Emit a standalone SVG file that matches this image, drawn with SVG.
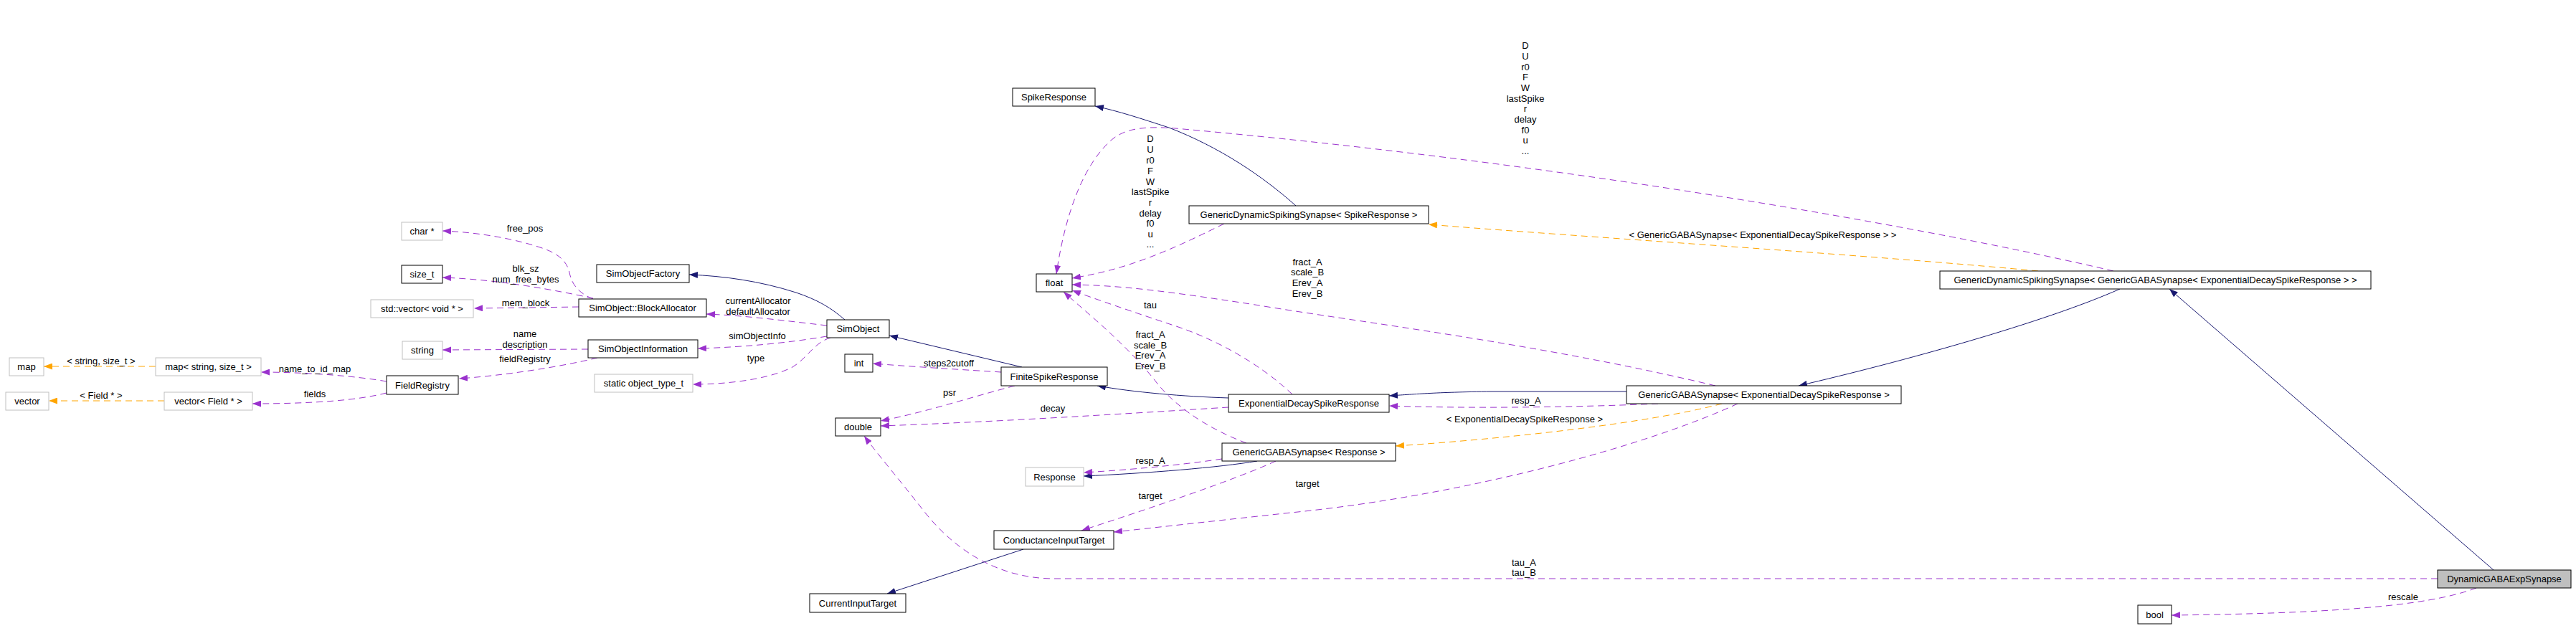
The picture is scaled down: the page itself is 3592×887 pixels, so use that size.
<svg xmlns="http://www.w3.org/2000/svg" width="3592" height="887" viewBox="0 0 3592 887">
<style>
.bg{fill:#ffffff}
.n rect{fill:#ffffff;stroke:#000000;stroke-width:1}
.n.u rect{stroke:#bfbfbf}
.n.main rect{fill:#bfbfbf}
text{font-family:"Liberation Sans",Arial,sans-serif;font-size:13px;fill:#000000;text-anchor:middle}
.e{fill:none;stroke-width:1}
.inh{stroke:#191970}
.use{stroke:#9a32cd;stroke-dasharray:9,6}
.tpl{stroke:#ffa500;stroke-dasharray:9,6}
.inh.e{marker-end:url(#an)}
.use.e{marker-end:url(#ap)}
.tpl.e{marker-end:url(#ao)}
</style>
<defs>
<marker id="ap" viewBox="0 0 12 9" refX="12" refY="4.5" markerWidth="12" markerHeight="9" markerUnits="userSpaceOnUse" orient="auto"><path d="M0,0 L12,4.5 L0,9 z" fill="#9a32cd"/></marker>
<marker id="an" viewBox="0 0 12 9" refX="12" refY="4.5" markerWidth="12" markerHeight="9" markerUnits="userSpaceOnUse" orient="auto"><path d="M0,0 L12,4.5 L0,9 z" fill="#191970"/></marker>
<marker id="ao" viewBox="0 0 12 9" refX="12" refY="4.5" markerWidth="12" markerHeight="9" markerUnits="userSpaceOnUse" orient="auto"><path d="M0,0 L12,4.5 L0,9 z" fill="#ffa500"/></marker>
</defs>
<rect class="bg" x="0" y="0" width="3592" height="887"/>

<g id="connectors">
<path class="use e" d="M827,417 C805,408 797,395 794,380 C790,362 775,352 753,345 C720,334 670,324 617,322"/>
<path class="use e" d="M827,416 C780,406 700,390 617,387"/>
<path class="use e" d="M807,428 L661,430"/>
<path class="use e" d="M820,487 L617,488"/>
<path class="use e" d="M833,499 C780,512 700,524 640,528"/>
<path class="use e" d="M539,532 C500,525 430,519 364,519"/>
<path class="use e" d="M539,548 C500,558 440,563 352,563"/>
<path class="tpl e" d="M217,511 L61,511"/>
<path class="tpl e" d="M229,559 L68,559"/>
<path class="use e" d="M1153,454 C1100,448 1040,440 985,438"/>
<path class="use e" d="M1153,469 C1100,478 1040,484 973,486"/>
<path class="use e" d="M1158,471 C1135,478 1125,500 1105,512 C1070,530 1010,536 966,536"/>
<path class="inh e" d="M1178,446 C1160,430 1140,418 1110,408 C1060,392 1010,385 961,383"/>
<path class="inh e" d="M1425,512 L1240,468"/>
<path class="use e" d="M1396,519 C1350,516 1280,512 1217,507"/>
<path class="use e" d="M1415,538 C1350,555 1290,575 1228,587"/>
<path class="use e" d="M1713,568 C1600,575 1400,588 1228,594"/>
<path class="inh e" d="M1713,555 C1650,553 1580,547 1530,538"/>
<path class="use e" d="M3399,807 L1470,807 C1390,807 1330,765 1290,715 C1255,670 1225,635 1205,608"/>
<path class="inh e" d="M1753,643 C1700,652 1600,660 1511,664"/>
<path class="use e" d="M1704,640 C1650,648 1580,655 1511,659"/>
<path class="use e" d="M1779,643 C1720,670 1600,710 1508,740"/>
<path class="use e" d="M2423,563 C2300,620 2050,690 1800,715 C1680,728 1600,737 1553,742"/>
<path class="inh e" d="M1427,766 L1237,828"/>
<path class="use e" d="M1707,312 C1670,330 1640,345 1600,360 C1560,375 1530,382 1495,388"/>
<path class="use e" d="M2947,378 C2700,320 2200,230 1650,180 C1600,175 1570,178 1550,195 C1510,230 1485,300 1473,382"/>
<path class="inh e" d="M1807,287 C1760,245 1700,205 1630,178 C1590,165 1560,155 1527,148"/>
<path class="tpl e" d="M2842,378 C2600,355 2200,330 1992,313"/>
<path class="use e" d="M1802,550 C1760,510 1700,475 1640,455 C1580,435 1530,418 1495,405"/>
<path class="use e" d="M2392,538 C2150,480 1900,450 1750,425 C1620,405 1560,398 1495,397"/>
<path class="use e" d="M1738,618 C1690,600 1640,570 1610,530 C1570,480 1520,440 1483,407"/>
<path class="inh e" d="M2956,403 C2850,450 2650,505 2508,538"/>
<path class="inh e" d="M3477,795 L3025,403"/>
<path class="use e" d="M3453,820 C3400,840 3300,855 3028,858"/>
<path class="inh e" d="M2268,546 L2080,546 C2000,547 1970,550 1937,552"/>
<path class="use e" d="M2312,563 C2200,568 2050,570 1937,566"/>
<path class="tpl e" d="M2401,563 C2300,590 2100,612 1946,622"/>

<text x="732" y="323">free_pos</text>
<text x="733" y="379">blk_sz</text>
<text x="733" y="394">num_free_bytes</text>
<text x="733" y="427">mem_block</text>
<text x="732" y="470">name</text>
<text x="732" y="485">description</text>
<text x="732" y="505">fieldRegistry</text>
<text x="141" y="508">&lt; string, size_t &gt;</text>
<text x="141" y="556">&lt; Field * &gt;</text>
<text x="439" y="519">name_to_id_map</text>
<text x="439" y="554">fields</text>
<text x="1057" y="424">currentAllocator</text>
<text x="1057" y="439">defaultAllocator</text>
<text x="1056" y="473">simObjectInfo</text>
<text x="1054" y="504">type</text>
<text x="1323" y="511">steps2cutoff</text>
<text x="1324" y="552">psr</text>
<text x="1468" y="574">decay</text>
<text x="1604" y="471">fract_A</text>
<text x="1604" y="486">scale_B</text>
<text x="1604" y="500">Erev_A</text>
<text x="1604" y="515">Erev_B</text>
<text x="1823" y="370">fract_A</text>
<text x="1823" y="384">scale_B</text>
<text x="1823" y="399">Erev_A</text>
<text x="1823" y="414">Erev_B</text>
<text x="1604" y="647">resp_A</text>
<text x="1604" y="696">target</text>
<text x="1604" y="430">tau</text>
<text x="1604" y="198">D</text>
<text x="1604" y="213">U</text>
<text x="1604" y="228">r0</text>
<text x="1604" y="243">F</text>
<text x="1604" y="258">W</text>
<text x="1604" y="272">lastSpike</text>
<text x="1604" y="287">r</text>
<text x="1604" y="302">delay</text>
<text x="1604" y="316">f0</text>
<text x="1604" y="331">u</text>
<text x="1604" y="345">...</text>
<text x="2127" y="68">D</text>
<text x="2127" y="83">U</text>
<text x="2127" y="98">r0</text>
<text x="2127" y="112">F</text>
<text x="2127" y="127">W</text>
<text x="2127" y="142">lastSpike</text>
<text x="2127" y="156">r</text>
<text x="2127" y="171">delay</text>
<text x="2127" y="186">f0</text>
<text x="2127" y="200">u</text>
<text x="2127" y="215">...</text>
<text x="2458" y="332">&lt; GenericGABASynapse&lt; ExponentialDecaySpikeResponse &gt; &gt;</text>
<text x="2128" y="563">resp_A</text>
<text x="2126" y="589">&lt; ExponentialDecaySpikeResponse &gt;</text>
<text x="1823" y="679">target</text>
<text x="2125" y="789">tau_A</text>
<text x="2125" y="803">tau_B</text>
<text x="3351" y="837">rescale</text>
</g>

<g id="n_char" class="n u"><rect x="560" y="310" width="57" height="25"/><text x="588.5" y="327">char *</text></g>
<g id="n_size_t" class="n"><rect x="560" y="370" width="57" height="25"/><text x="588.5" y="387">size_t</text></g>
<g id="n_stdvector" class="n u"><rect x="517" y="418" width="143" height="25"/><text x="588.5" y="435">std::vector&lt; void * &gt;</text></g>
<g id="n_string" class="n u"><rect x="561" y="476" width="56" height="25"/><text x="589" y="493">string</text></g>
<g id="n_map" class="n u"><rect x="13" y="499" width="48" height="25"/><text x="37" y="516">map</text></g>
<g id="n_mapstr" class="n u"><rect x="217" y="499" width="147" height="25"/><text x="290.5" y="516">map&lt; string, size_t &gt;</text></g>
<g id="n_fieldregistry" class="n"><rect x="539" y="524" width="100" height="26"/><text x="589" y="542">FieldRegistry</text></g>
<g id="n_vector" class="n u"><rect x="8" y="547" width="60" height="25"/><text x="38" y="564">vector</text></g>
<g id="n_vectorfield" class="n u"><rect x="229" y="547" width="123" height="25"/><text x="290.5" y="564">vector&lt; Field * &gt;</text></g>
<g id="n_simobjectfactory" class="n"><rect x="832" y="369" width="129" height="25"/><text x="896.5" y="386">SimObjectFactory</text></g>
<g id="n_blockallocator" class="n"><rect x="807" y="417" width="178" height="25"/><text x="896" y="434">SimObject::BlockAllocator</text></g>
<g id="n_simobjectinformation" class="n"><rect x="820" y="474" width="153" height="25"/><text x="896.5" y="491">SimObjectInformation</text></g>
<g id="n_objecttype" class="n u"><rect x="829" y="522" width="137" height="25"/><text x="897.5" y="539">static object_type_t</text></g>
<g id="n_simobject" class="n"><rect x="1153" y="446" width="87" height="25"/><text x="1196.5" y="463">SimObject</text></g>
<g id="n_int" class="n"><rect x="1178" y="494" width="39" height="25"/><text x="1197.5" y="511">int</text></g>
<g id="n_double" class="n"><rect x="1165" y="583" width="63" height="25"/><text x="1196.5" y="600">double</text></g>
<g id="n_currentinputtarget" class="n"><rect x="1129" y="828" width="134" height="26"/><text x="1196" y="846">CurrentInputTarget</text></g>
<g id="n_finitespikeresponse" class="n"><rect x="1396" y="512" width="148" height="26"/><text x="1470" y="530">FiniteSpikeResponse</text></g>
<g id="n_response" class="n u"><rect x="1430" y="652" width="81" height="26"/><text x="1470.5" y="670">Response</text></g>
<g id="n_conductanceinputtarget" class="n"><rect x="1386" y="740" width="167" height="26"/><text x="1469.5" y="758">ConductanceInputTarget</text></g>
<g id="n_spikeresponse" class="n"><rect x="1412" y="123" width="115" height="25"/><text x="1469.5" y="140">SpikeResponse</text></g>
<g id="n_float" class="n"><rect x="1445" y="382" width="50" height="25"/><text x="1470" y="399">float</text></g>
<g id="n_gdss_sr" class="n"><rect x="1658" y="287" width="334" height="25"/><text x="1825" y="304">GenericDynamicSpikingSynapse&lt; SpikeResponse &gt;</text></g>
<g id="n_edsr" class="n"><rect x="1713" y="550" width="224" height="25"/><text x="1825" y="567">ExponentialDecaySpikeResponse</text></g>
<g id="n_ggs_response" class="n"><rect x="1704" y="618" width="242" height="25"/><text x="1825" y="635">GenericGABASynapse&lt; Response &gt;</text></g>
<g id="n_ggs_edsr" class="n"><rect x="2268" y="538" width="383" height="25"/><text x="2459.5" y="555">GenericGABASynapse&lt; ExponentialDecaySpikeResponse &gt;</text></g>
<g id="n_gdss_ggs" class="n"><rect x="2705" y="378" width="601" height="25"/><text x="3005.5" y="395">GenericDynamicSpikingSynapse&lt; GenericGABASynapse&lt; ExponentialDecaySpikeResponse &gt; &gt;</text></g>
<g id="n_dynamicgabaexpsynapse" class="n main"><rect x="3399" y="795" width="186" height="25"/><text x="3492" y="812">DynamicGABAExpSynapse</text></g>
<g id="n_bool" class="n"><rect x="2981" y="844" width="47" height="26"/><text x="3004.5" y="862">bool</text></g>
</svg>
